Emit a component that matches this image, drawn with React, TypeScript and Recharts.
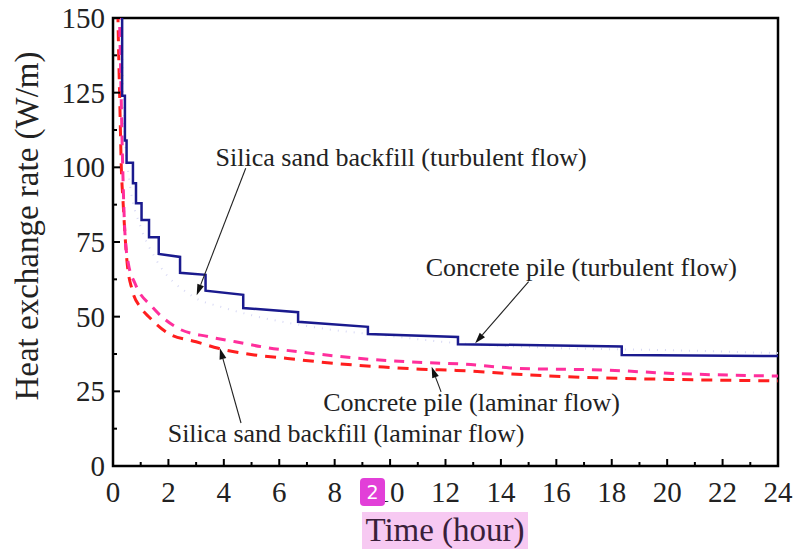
import { LineChart, Line, XAxis, YAxis, ReferenceArea, ReferenceLine, ReferenceDot } from "recharts";

// time (hour) / heat exchange rate (W/m) for each curve
const concreteTurbT = [0.33, 0.33, 0.43, 0.43, 0.49, 0.49, 0.72, 0.72, 0.83, 0.83, 1.03, 1.03, 1.3, 1.3, 1.65, 1.65, 2.42, 2.42, 3.34, 3.34, 4.7, 4.7, 6.68, 6.68, 9.2, 9.2, 12.45, 12.45, 18.36, 18.36, 24];
const concreteTurbV = [165, 124, 124, 109, 109, 101.5, 101.5, 94.7, 94.7, 88, 88, 82.4, 82.4, 76.6, 76.6, 71, 70, 64.7, 64, 58.7, 57.3, 52.9, 51.5, 48.3, 46.6, 44.2, 43.2, 40.8, 40, 37.2, 36.8];

const silicaTurbT = [0.3, 0.4, 0.6, 1, 1.5, 2.84, 4, 5, 7.6, 10, 12, 16, 20, 24];
const silicaTurbV = [155, 115, 95, 80, 70, 57, 53, 50.5, 46, 43.5, 41.5, 39.5, 38.8, 37.8];

const concreteLamT = [0.2, 0.27, 0.33, 0.43, 0.55, 0.8, 1.41, 2.37, 3.45, 4.42, 5.38, 7.2, 9.28, 11.3, 12.5, 14.6, 17.8, 20.2, 24];
const concreteLamV = [165, 135, 108, 78, 68, 61, 53.3, 46, 43.3, 41.6, 39.9, 37.7, 35.7, 34.6, 34.2, 32.7, 32.1, 31, 30.1];

const silicaLamT = [0.15, 0.2, 0.25, 0.3, 0.36, 0.5, 0.69, 1, 1.29, 2, 3, 3.8, 5.1, 6.3, 7.4, 8.7, 10, 11.1, 12.4, 15, 17.6, 20.1, 24];
const silicaLamV = [165, 140, 120, 100, 89, 69, 59, 53, 50, 44.4, 41.6, 39.4, 37.2, 36, 34.9, 33.8, 33, 32.4, 32, 30.5, 29.5, 29, 28.5];

const xTicks = [0, 1, 2, 3, 4, 5, 6, 7, 8, 9, 10, 11, 12, 13, 14, 15, 16, 17, 18, 19, 20, 21, 22, 23, 24];
const yTicks = [0, 12.5, 25, 37.5, 50, 62.5, 75, 87.5, 100, 112.5, 125, 137.5, 150];

const notes = [
  { text: "Silica sand backfill (turbulent flow)", t: 10.4, v: 103, from: [4.79, 99.7], to: [3.02, 57.2] },
  { text: "Concrete pile (turbulent flow)", t: 16.9, v: 66.3, from: [15.0, 61.7], to: [13.07, 41.1] },
  { text: "Concrete pile (laminar flow)", t: 12.94, v: 21.1, from: [11.84, 24.8], to: [11.5, 33.2] },
  { text: "Silica sand backfill (laminar flow)", t: 8.41, v: 10.7, from: [4.62, 14.4], to: [3.86, 39.4] },
];

const zip = (ts: number[], vs: number[]) => ts.map((t, i) => ({ t, v: vs[i] }));

const serif = "'Liberation Serif', 'Times New Roman', serif";

const XTick = ({ x, y, payload }: any) => {
  const major = payload.value % 2 === 0;
  return (
    <g>
      <line x1={x} x2={x} y1={y} y2={y - (major ? 7 : 4)} stroke="#000" strokeWidth={2} />
      {major && (
        <text x={x} y={y + 36} textAnchor="middle" fontSize={29} fontFamily={serif} fill="#222">
          {payload.value}
        </text>
      )}
    </g>
  );
};

const YTick = ({ x, y, payload }: any) => {
  const major = payload.value % 25 === 0;
  return (
    <g>
      <line x1={x} x2={x + (major ? 7 : 4)} y1={y} y2={y} stroke="#000" strokeWidth={2} />
      {major && (
        <text x={x - 8} y={y + 10} textAnchor="end" fontSize={29} fontFamily={serif} fill="#222">
          {payload.value}
        </text>
      )}
    </g>
  );
};

const Arrow = (props: any) => {
  const { x1, y1, x2, y2 } = props;
  const ang = Math.atan2(y2 - y1, x2 - x1);
  const len = 11;
  const w = 3.5;
  const bx = x2 - len * Math.cos(ang);
  const by = y2 - len * Math.sin(ang);
  const px = -Math.sin(ang) * w;
  const py = Math.cos(ang) * w;
  return (
    <g>
      <line x1={x1} y1={y1} x2={bx} y2={by} stroke="#222" strokeWidth={1.1} />
      <polygon points={`${x2},${y2} ${bx + px},${by + py} ${bx - px},${by - py}`} fill="#111" />
    </g>
  );
};

export default function App() {
  return (
    <div style={{ position: "absolute", left: 0, top: 0, width: 795, height: 551, background: "#fff" }}>
      <LineChart width={795} height={551} margin={{ top: 18, right: 17, bottom: 55, left: 53 }}>
        <XAxis
          type="number"
          dataKey="t"
          domain={[0, 24]}
          ticks={xTicks}
          interval={0}
          axisLine={false}
          tickLine={false}
          tickSize={0}
          tickMargin={0}
          height={30}
          tick={<XTick />}
        />
        <YAxis
          type="number"
          dataKey="v"
          domain={[0, 150]}
          ticks={yTicks}
          interval={0}
          allowDataOverflow
          axisLine={false}
          tickLine={false}
          tickSize={0}
          tickMargin={0}
          width={60}
          tick={<YTick />}
        />
        <Line data={zip(silicaTurbT, silicaTurbV)} dataKey="v" type="monotone" stroke="#d8d9f4" strokeWidth={2} strokeDasharray="1 7" dot={false} isAnimationActive={false} />
        <Line data={zip(silicaLamT, silicaLamV)} dataKey="v" type="monotone" stroke="#ff1e1e" strokeWidth={3} strokeDasharray="11 8" dot={false} isAnimationActive={false} />
        <Line data={zip(concreteLamT, concreteLamV)} dataKey="v" type="monotone" stroke="#ff2f9c" strokeWidth={3} strokeDasharray="10 8" dot={false} isAnimationActive={false} />
        <Line data={zip(concreteTurbT, concreteTurbV)} dataKey="v" type="linear" stroke="#1a1a8e" strokeWidth={2.5} dot={false} isAnimationActive={false} />
        {notes.map((n) => (
          <ReferenceLine
            key={n.text + "a"}
            segment={[{ x: n.from[0], y: n.from[1] }, { x: n.to[0], y: n.to[1] }]}
            shape={<Arrow />}
          />
        ))}
        {notes.map((n) => (
          <ReferenceDot
            key={n.text}
            x={n.t}
            y={n.v}
            r={0}
            shape={(p: any) => (
              <text x={p.cx} y={p.cy + 8} textAnchor="middle" fontSize={26} fontFamily={serif} fill="#222">
                {n.text}
              </text>
            )}
          />
        ))}
        <ReferenceArea x1={0} x2={24} y1={0} y2={150} fill="none" fillOpacity={0} stroke="#000" strokeWidth={2.5} />
      </LineChart>
      <div
        style={{
          position: "absolute",
          left: 27,
          top: 226,
          transform: "translate(-50%, -50%) rotate(-90deg)",
          whiteSpace: "nowrap",
          fontFamily: serif,
          fontSize: 33,
          color: "#222",
        }}
      >
        Heat exchange rate (W/m)
      </div>
      <div
        style={{
          position: "absolute",
          left: 362,
          top: 512,
          width: 166,
          height: 37,
          background: "#f7c9f2",
          fontFamily: serif,
          fontSize: 33,
          color: "#3a1f3a",
          textAlign: "center",
          lineHeight: "37px",
          whiteSpace: "nowrap",
        }}
      >
        Time (hour)
      </div>
      <div
        style={{
          position: "absolute",
          left: 360,
          top: 478,
          width: 25,
          height: 28,
          borderRadius: 4,
          background: "#e23fd8",
          color: "#fff",
          fontFamily: "'DejaVu Sans', sans-serif",
          fontSize: 19,
          textAlign: "center",
          lineHeight: "28px",
        }}
      >
        2
      </div>
    </div>
  );
}
